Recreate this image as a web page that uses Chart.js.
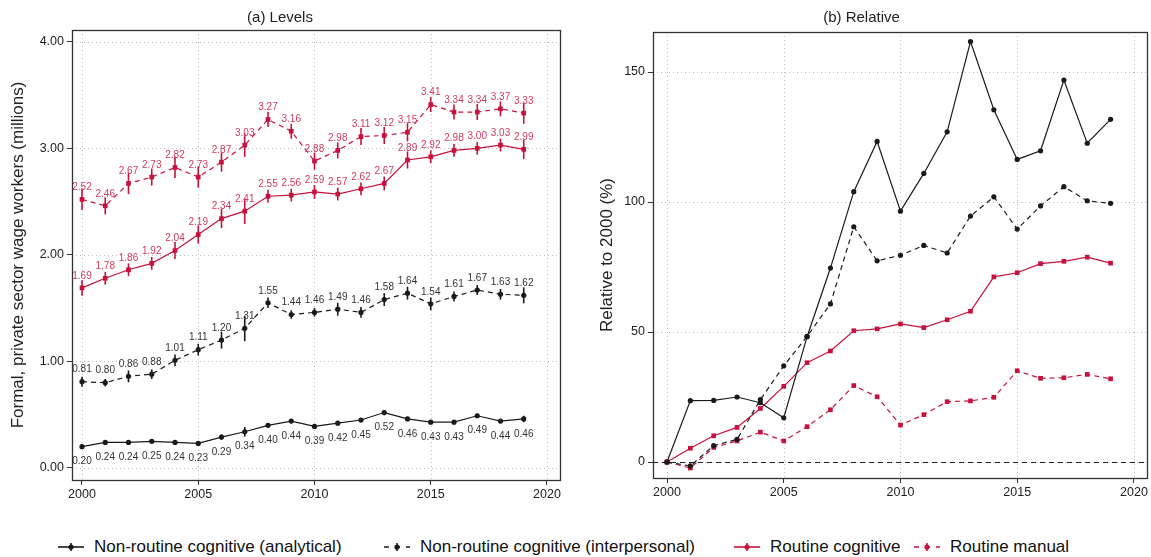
<!DOCTYPE html>
<html>
<head>
<meta charset="utf-8">
<script src="https://cdn.jsdelivr.net/npm/chart.js@4.4.1/dist/chart.umd.min.js"></script>
<style>
  body { margin: 0; background: #fff; font-family: Arial, "Liberation Sans", sans-serif; }
  #wrap { position: relative; width: 1151px; height: 557px; overflow: hidden; }
  #levels { position: absolute; left: 0; top: 0; }
  #relative { position: absolute; left: 575px; top: 0; }
  .item { position: absolute; top: 536px; height: 22px; display: flex; align-items: center; white-space: nowrap; font-size: 17px; color: #111; }
  .item svg { margin-right: 9px; }
</style>
</head>
<body>
<div id="wrap">
  <canvas id="levels" width="575" height="515"></canvas>
  <canvas id="relative" width="576" height="515"></canvas>
  <div id="legend"></div>
</div>
<script>
// years on the x axis
const years = [2000, 2001, 2002, 2003, 2004, 2005, 2006, 2007, 2008, 2009,
               2010, 2011, 2012, 2013, 2014, 2015, 2016, 2017, 2018, 2019];

// (a) levels, millions of workers
const analyticalLevel    = [0.20, 0.24, 0.24, 0.25, 0.24, 0.23, 0.29, 0.34, 0.40, 0.44, 0.39, 0.42, 0.45, 0.52, 0.46, 0.43, 0.43, 0.49, 0.44, 0.46];
const interpersonalLevel = [0.81, 0.80, 0.86, 0.88, 1.01, 1.11, 1.20, 1.31, 1.55, 1.44, 1.46, 1.49, 1.46, 1.58, 1.64, 1.54, 1.61, 1.67, 1.63, 1.62];
const cognitiveLevel     = [1.69, 1.78, 1.86, 1.92, 2.04, 2.19, 2.34, 2.41, 2.55, 2.56, 2.59, 2.57, 2.62, 2.67, 2.89, 2.92, 2.98, 3.00, 3.03, 2.99];
const manualLevel        = [2.52, 2.46, 2.67, 2.73, 2.82, 2.73, 2.87, 3.03, 3.27, 3.16, 2.88, 2.98, 3.11, 3.12, 3.15, 3.41, 3.34, 3.34, 3.37, 3.33];

// half width of the confidence bars
const analyticalErr    = [0.02, 0.015, 0.015, 0.015, 0.02, 0.02, 0.025, 0.045, 0.02, 0.02, 0.02, 0.02, 0.02, 0.025, 0.02, 0.02, 0.02, 0.02, 0.02, 0.03];
const interpersonalErr = [0.047, 0.035, 0.055, 0.045, 0.055, 0.055, 0.08, 0.12, 0.05, 0.04, 0.04, 0.06, 0.05, 0.06, 0.06, 0.06, 0.047, 0.047, 0.05, 0.075];
const cognitiveErr     = [0.075, 0.06, 0.06, 0.06, 0.08, 0.085, 0.09, 0.12, 0.06, 0.06, 0.065, 0.06, 0.06, 0.065, 0.08, 0.06, 0.06, 0.06, 0.06, 0.09];
const manualErr        = [0.10, 0.08, 0.10, 0.08, 0.10, 0.10, 0.09, 0.11, 0.07, 0.07, 0.08, 0.075, 0.08, 0.08, 0.085, 0.07, 0.07, 0.075, 0.07, 0.10];

// (b) relative to 2000, percent
const analyticalRel    = [0, 23.6, 23.7, 25.0, 22.8, 17.0, 48.2, 74.6, 104.0, 123.3, 96.5, 111.0, 127.0, 161.7, 135.5, 116.4, 119.7, 146.9, 122.6, 131.8];
const interpersonalRel = [0, -1.5, 6.3, 8.7, 24.0, 37.0, 48.3, 60.8, 90.5, 77.4, 79.5, 83.3, 80.4, 94.6, 102.0, 89.6, 98.5, 105.9, 100.5, 99.5];
const cognitiveRel     = [0, 5.3, 10.1, 13.3, 20.6, 29.1, 38.2, 42.7, 50.5, 51.2, 53.1, 51.7, 54.7, 58.0, 71.2, 72.8, 76.3, 77.2, 78.8, 76.5];
const manualRel        = [0, -2.3, 5.6, 8.1, 11.5, 8.1, 13.6, 20.1, 29.4, 25.1, 14.2, 18.2, 23.2, 23.5, 24.9, 35.1, 32.2, 32.4, 33.7, 32.0];

const seriesNames = ['Non-routine cognitive (analytical)', 'Non-routine cognitive (interpersonal)', 'Routine cognitive', 'Routine manual'];
const xTicks = [2000, 2005, 2010, 2015, 2020];
const levelTicks = [0, 1, 2, 3, 4];
const relTicks = [0, 50, 100, 150];

const RED = '#C8103C';
const BLACK = '#1a1a1a';
const DASH = [5, 4];

Chart.defaults.font.family = 'Arial, "Liberation Sans", sans-serif';
Chart.defaults.color = '#222';

function pts(vals) {
  return years.map((yr, i) => ({ x: yr, y: vals[i] }));
}

// dotted grid, confidence bars, value labels and the box round the plot
const decor = {
  id: 'decor',
  beforeDatasetsDraw(chart, args, o) {
    const { ctx, chartArea: a, scales: { x, y } } = chart;
    ctx.save();
    ctx.strokeStyle = '#bdbdbd';
    ctx.lineWidth = 1;
    ctx.setLineDash([1, 3]);
    x.ticks.forEach(t => {
      const px = Math.round(x.getPixelForValue(t.value)) + 0.5;
      ctx.beginPath(); ctx.moveTo(px, a.top); ctx.lineTo(px, a.bottom); ctx.stroke();
    });
    y.ticks.forEach(t => {
      const py = Math.round(y.getPixelForValue(t.value)) + 0.5;
      ctx.beginPath(); ctx.moveTo(a.left, py); ctx.lineTo(a.right, py); ctx.stroke();
    });
    if (o.zeroLine) {
      ctx.strokeStyle = '#222';
      ctx.setLineDash([5, 4]);
      const py = Math.round(y.getPixelForValue(0)) + 0.5;
      ctx.beginPath(); ctx.moveTo(a.left, py); ctx.lineTo(a.right, py); ctx.stroke();
    }
    ctx.setLineDash([]);
    chart.data.datasets.forEach((ds, i) => {
      if (!ds.errors) return;
      const meta = chart.getDatasetMeta(i);
      ctx.strokeStyle = ds.borderColor;
      ctx.lineWidth = 1.6;
      meta.data.forEach((p, j) => {
        const v = ds.data[j].y;
        ctx.beginPath();
        ctx.moveTo(p.x, y.getPixelForValue(v + ds.errors[j]));
        ctx.lineTo(p.x, y.getPixelForValue(v - ds.errors[j]));
        ctx.stroke();
      });
    });
    ctx.restore();
  },
  afterDatasetsDraw(chart) {
    const { ctx } = chart;
    ctx.save();
    ctx.font = '10px Arial, "Liberation Sans", sans-serif';
    ctx.textAlign = 'center';
    ctx.textBaseline = 'middle';
    chart.data.datasets.forEach((ds, i) => {
      if (!ds.labelOffset) return;
      const meta = chart.getDatasetMeta(i);
      ctx.fillStyle = ds.labelColor;
      meta.data.forEach((p, j) => {
        ctx.fillText(ds.data[j].y.toFixed(2), p.x, p.y + ds.labelOffset);
      });
    });
    ctx.restore();
  },
  afterDraw(chart) {
    const { ctx, chartArea: a } = chart;
    ctx.save();
    ctx.strokeStyle = '#333';
    ctx.lineWidth = 1.3;
    ctx.strokeRect(a.left + 0.5, a.top + 0.5, a.right - a.left, a.bottom - a.top);
    ctx.restore();
  }
};

function line(label, vals, color, dashed, style, extra) {
  return Object.assign({
    label: label,
    data: pts(vals),
    borderColor: color,
    backgroundColor: color,
    borderWidth: 1.2,
    borderDash: dashed ? DASH : [],
    pointStyle: style,
    pointRadius: style === 'rect' ? 3.3 : 2.6,
    pointBorderWidth: 0,
    tension: 0
  }, extra || {});
}

function xScale(min, max, h) {
  return {
    type: 'linear', min: min, max: max,
    afterBuildTicks: s => { s.ticks = xTicks.map(v => ({ value: v })); },
    afterFit: s => { s.height = h; },
    grid: { drawOnChartArea: false, drawTicks: true, tickLength: 5, tickColor: '#333', tickWidth: 1 },
    border: { display: false },
    ticks: { font: { size: 12.5 }, color: '#222', padding: 2, maxRotation: 0, callback: v => String(v) }
  };
}

function yScale(min, max, ticks, w, title, titlePad, fmt) {
  return {
    type: 'linear', min: min, max: max,
    afterBuildTicks: s => { s.ticks = ticks.map(v => ({ value: v })); },
    afterFit: s => { s.width = w; },
    grid: { drawOnChartArea: false, drawTicks: true, tickLength: 5, tickColor: '#333', tickWidth: 1 },
    border: { display: false },
    ticks: { font: { size: 12.5 }, color: '#222', padding: 3, callback: fmt },
    title: { display: true, text: title, font: { size: 17 }, color: '#222', padding: { top: titlePad, bottom: 0 } }
  };
}

new Chart(document.getElementById('levels'), {
  type: 'line',
  data: {
    datasets: [
      line(seriesNames[0], analyticalLevel, BLACK, false, 'circle', { errors: analyticalErr, labelOffset: 15, labelColor: '#333' }),
      line(seriesNames[1], interpersonalLevel, BLACK, true, 'circle', { errors: interpersonalErr, labelOffset: -12, labelColor: '#333' }),
      line(seriesNames[2], cognitiveLevel, RED, false, 'rect', { errors: cognitiveErr, labelOffset: -12, labelColor: '#D03A5E' }),
      line(seriesNames[3], manualLevel, RED, true, 'rect', { errors: manualErr, labelOffset: -12, labelColor: '#D03A5E' })
    ]
  },
  options: {
    responsive: false,
    animation: false,
    layout: { padding: { left: 0, right: 15, top: 0, bottom: 0 } },
    scales: {
      x: xScale(1999.57, 2020.56, 35),
      y: yScale(-0.113, 4.11, levelTicks, 72, 'Formal, private sector wage workers (millions)', 8, v => v.toFixed(2))
    },
    plugins: {
      legend: { display: false },
      tooltip: { enabled: false },
      title: { display: true, text: '(a) Levels', font: { size: 15, weight: 'normal' }, color: '#222', padding: { top: 9, bottom: 3 } },
      decor: { zeroLine: false }
    }
  },
  plugins: [decor]
});

new Chart(document.getElementById('relative'), {
  type: 'line',
  data: {
    datasets: [
      line(seriesNames[0], analyticalRel, BLACK, false, 'circle'),
      line(seriesNames[1], interpersonalRel, BLACK, true, 'circle'),
      line(seriesNames[2], cognitiveRel, RED, false, 'rect'),
      line(seriesNames[3], manualRel, RED, true, 'rect')
    ]
  },
  options: {
    responsive: false,
    animation: false,
    layout: { padding: { left: 0, right: 3, top: 0, bottom: 0 } },
    scales: {
      x: xScale(1999.4, 2020.56, 37),
      y: yScale(-6.15, 165.4, relTicks, 78, 'Relative to 2000 (%)', 22, v => String(v))
    },
    plugins: {
      legend: { display: false },
      tooltip: { enabled: false },
      title: { display: true, text: '(b) Relative', font: { size: 15, weight: 'normal' }, color: '#222', padding: { top: 9, bottom: 5 } },
      decor: { zeroLine: true }
    }
  },
  plugins: [decor]
});

// shared legend under both panels
const legendLeft = [57, 383, 733, 913];
const legendStyle = [[BLACK, false], [BLACK, true], [RED, false], [RED, true]];
const legend = document.getElementById('legend');
seriesNames.forEach((name, i) => {
  const [c, dashed] = legendStyle[i];
  const item = document.createElement('div');
  item.className = 'item';
  item.style.left = legendLeft[i] + 'px';
  item.innerHTML =
    '<svg width="28" height="14" viewBox="0 0 28 14">' +
    '<line x1="1" y1="7" x2="27" y2="7" stroke="' + c + '" stroke-width="1.6"' + (dashed ? ' stroke-dasharray="5,6"' : '') + '/>' +
    '<line x1="14" y1="3" x2="14" y2="11" stroke="' + c + '" stroke-width="1.6"/>' +
    '<circle cx="14" cy="7" r="2.6" fill="' + c + '"/></svg>' +
    '<span>' + name + '</span>';
  legend.appendChild(item);
});
</script>
</body>
</html>
